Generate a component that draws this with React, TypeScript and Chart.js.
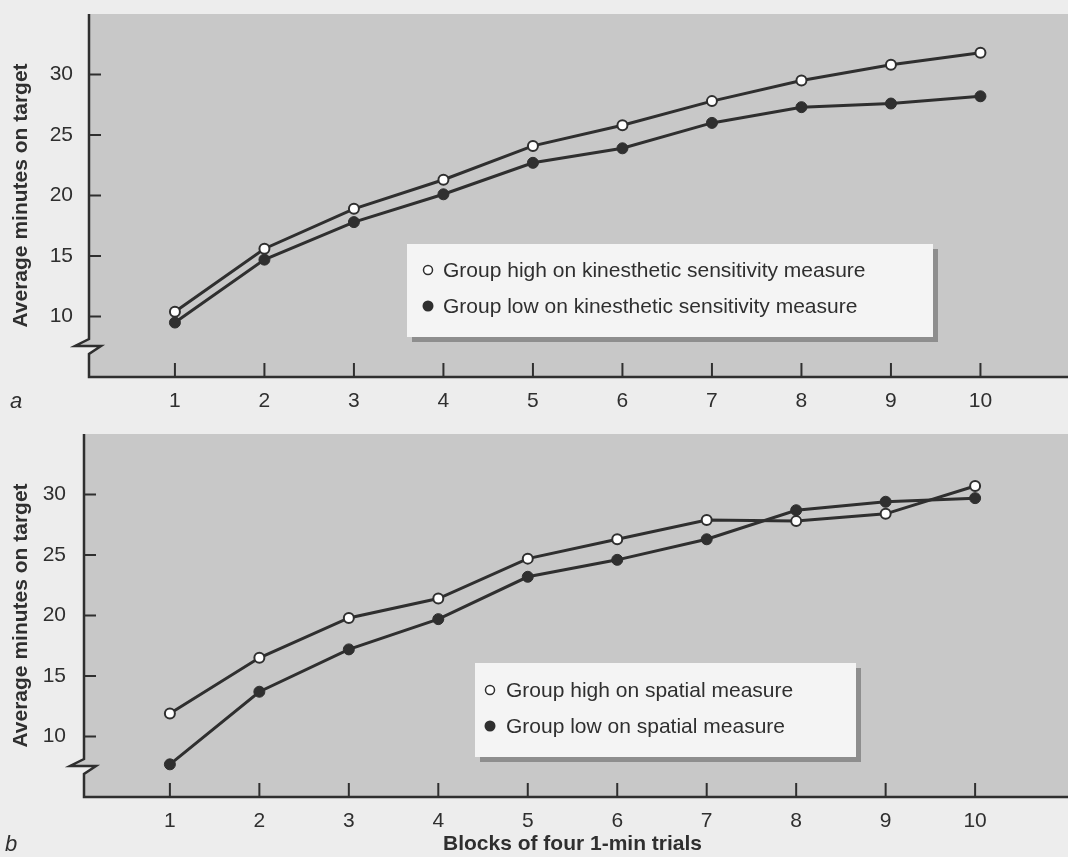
import React, { useEffect, useRef } from "react";
import { Chart, registerables } from "chart.js";

Chart.register(...registerables);

// ---------- data ----------
const BLOCKS = [1, 2, 3, 4, 5, 6, 7, 8, 9, 10];
const X_TICKS = [1, 2, 3, 4, 5, 6, 7, 8, 9, 10];
const Y_TICKS = [10, 15, 20, 25, 30];

const A_HIGH = [10.4, 15.6, 18.9, 21.3, 24.1, 25.8, 27.8, 29.5, 30.8, 31.8];
const A_LOW = [9.5, 14.7, 17.8, 20.1, 22.7, 23.9, 26.0, 27.3, 27.6, 28.2];
const B_HIGH = [11.9, 16.5, 19.8, 21.4, 24.7, 26.3, 27.9, 27.8, 28.4, 30.7];
const B_LOW = [7.7, 13.7, 17.2, 19.7, 23.2, 24.6, 26.3, 28.7, 29.4, 29.7];

const A_LABELS = [
  "Group high on kinesthetic sensitivity measure",
  "Group low on kinesthetic sensitivity measure",
];
const B_LABELS = ["Group high on spatial measure", "Group low on spatial measure"];

const Y_TITLE = "Average minutes on target";
const X_TITLE = "Blocks of four 1-min trials";

// ---------- layout / style ----------
const W = 1068;
const FONT = "'Liberation Sans', Arial, Helvetica, sans-serif";
const INK = "#2f2f2f";
const PAGE_BG = "#ededed";
const PLOT_BG = "#c8c8c8";
const BOX_BG = "#f4f4f4";
const SHADOW = "#8e8e8e";
const PLOT_TOP = 14;
const PLOT_H = 363;

type Panel = {
  top: number;
  height: number;
  axisLeft: number;
  labelPad: number;
  xMin: number;
  xMax: number;
  high: number[];
  low: number[];
  labels: string[];
  legend: { x: number; y: number; w: number; h: number; markerX: number; textX: number; rows: number[] };
  xTitle: boolean;
  letter: string;
  letterX: number;
  letterY: number;
};

const PANELS: Panel[] = [
  {
    top: 0,
    height: 420,
    axisLeft: 89,
    labelPad: 16,
    xMin: 0.04,
    xMax: 10.9,
    high: A_HIGH,
    low: A_LOW,
    labels: A_LABELS,
    legend: { x: 407, y: 244, w: 526, h: 93, markerX: 428, textX: 443, rows: [270, 306] },
    xTitle: false,
    letter: "a",
    letterX: 10,
    letterY: 408,
  },
  {
    top: 420,
    height: 437,
    axisLeft: 84,
    labelPad: 18,
    xMin: 0.04,
    xMax: 10.96,
    high: B_HIGH,
    low: B_LOW,
    labels: B_LABELS,
    legend: { x: 475, y: 243, w: 381, h: 94, markerX: 490, textX: 506, rows: [270, 306] },
    xTitle: true,
    letter: "b",
    letterX: 5,
    letterY: 431,
  },
];

function makePlugin(p: Panel) {
  return {
    id: "decor",
    beforeDraw(chart: any) {
      const { ctx, chartArea: a } = chart;
      ctx.save();
      ctx.fillStyle = PAGE_BG;
      ctx.fillRect(0, 0, chart.width, chart.height);
      ctx.fillStyle = PLOT_BG;
      ctx.fillRect(a.left, a.top, chart.width - a.left, a.bottom - a.top);
      ctx.restore();
    },
    beforeDatasetsDraw(chart: any) {
      const { ctx, chartArea: a, scales } = chart;
      const L = a.left;
      const y1 = a.bottom - 38;
      ctx.save();
      // break triangles
      ctx.fillStyle = PLOT_BG;
      ctx.beginPath();
      ctx.moveTo(L, y1);
      ctx.lineTo(L - 14, y1 + 7);
      ctx.lineTo(L, y1 + 7);
      ctx.closePath();
      ctx.fill();
      ctx.fillStyle = PAGE_BG;
      ctx.beginPath();
      ctx.moveTo(L, y1 + 7);
      ctx.lineTo(L + 12, y1 + 7);
      ctx.lineTo(L, y1 + 15);
      ctx.closePath();
      ctx.fill();
      // axes
      ctx.strokeStyle = INK;
      ctx.lineWidth = 2.5;
      ctx.lineJoin = "miter";
      ctx.beginPath();
      ctx.moveTo(L, a.top);
      ctx.lineTo(L, y1);
      ctx.lineTo(L - 14, y1 + 7);
      ctx.lineTo(L + 12, y1 + 7);
      ctx.lineTo(L, y1 + 15);
      ctx.lineTo(L, a.bottom);
      ctx.lineTo(chart.width, a.bottom);
      ctx.stroke();
      // inward tick marks
      ctx.lineWidth = 2;
      const ys = scales.y;
      const xs = scales.x;
      ys.ticks.forEach((t: any) => {
        const y = ys.getPixelForValue(t.value);
        ctx.beginPath();
        ctx.moveTo(L, y);
        ctx.lineTo(L + 12, y);
        ctx.stroke();
      });
      xs.ticks.forEach((t: any) => {
        const x = xs.getPixelForValue(t.value);
        ctx.beginPath();
        ctx.moveTo(x, a.bottom);
        ctx.lineTo(x, a.bottom - 14);
        ctx.stroke();
      });
      ctx.restore();
    },
    afterDatasetsDraw(chart: any) {
      const { ctx } = chart;
      const lg = p.legend;
      ctx.save();
      ctx.fillStyle = SHADOW;
      ctx.fillRect(lg.x + 5, lg.y + 5, lg.w, lg.h);
      ctx.fillStyle = BOX_BG;
      ctx.fillRect(lg.x, lg.y, lg.w, lg.h);
      chart.data.datasets.forEach((ds: any, i: number) => {
        const y = lg.rows[i];
        ctx.beginPath();
        if (i === 0) {
          ctx.arc(lg.markerX, y, 4.5, 0, Math.PI * 2);
          ctx.fillStyle = "#ffffff";
          ctx.fill();
          ctx.lineWidth = 1.5;
          ctx.strokeStyle = INK;
          ctx.stroke();
        } else {
          ctx.arc(lg.markerX, y, 5.5, 0, Math.PI * 2);
          ctx.fillStyle = INK;
          ctx.fill();
        }
        ctx.fillStyle = INK;
        ctx.font = `21px ${FONT}`;
        ctx.textAlign = "left";
        ctx.textBaseline = "middle";
        ctx.fillText(ds.label, lg.textX, y + 1);
      });
      // panel letter
      ctx.fillStyle = INK;
      ctx.font = `italic 22px ${FONT}`;
      ctx.textAlign = "left";
      ctx.textBaseline = "alphabetic";
      ctx.fillText(p.letter, p.letterX, p.letterY);
      ctx.restore();
    },
  };
}

function PanelChart({ p }: { p: Panel }) {
  const ref = useRef<HTMLCanvasElement | null>(null);
  useEffect(() => {
    if (!ref.current) return;
    const tickFont = { family: FONT, size: 21 };
    const titleFont = { family: FONT, size: 21, weight: "bold" as const };
    const chart = new Chart(ref.current, {
      type: "line",
      data: {
        labels: BLOCKS,
        datasets: [
          {
            label: p.labels[0],
            data: BLOCKS.map((b, i) => ({ x: b, y: p.high[i] })),
            borderColor: INK,
            borderWidth: 3,
            pointRadius: 5,
            pointBorderWidth: 2,
            pointBackgroundColor: "#ffffff",
            pointBorderColor: INK,
            tension: 0,
          },
          {
            label: p.labels[1],
            data: BLOCKS.map((b, i) => ({ x: b, y: p.low[i] })),
            borderColor: INK,
            borderWidth: 3,
            pointRadius: 5.5,
            pointBorderWidth: 1,
            pointBackgroundColor: INK,
            pointBorderColor: INK,
            tension: 0,
          },
        ],
      },
      options: {
        animation: false,
        responsive: false,
        events: [],
        layout: { padding: { top: PLOT_TOP, left: 0, right: 0, bottom: 0 } },
        plugins: { legend: { display: false }, tooltip: { enabled: false } },
        scales: {
          x: {
            type: "linear",
            min: p.xMin,
            max: p.xMax,
            afterBuildTicks: (s: any) => {
              s.ticks = X_TICKS.map((v) => ({ value: v }));
            },
            afterFit: (s: any) => {
              s.height = p.height - PLOT_TOP - PLOT_H;
              s.paddingLeft = 0;
              s.paddingRight = 0;
              s.paddingTop = 0;
              s.paddingBottom = 0;
            },
            grid: { display: false, drawTicks: false },
            border: { display: false },
            ticks: {
              padding: 12,
              font: tickFont,
              color: INK,
              autoSkip: false,
              maxRotation: 0,
              callback: (v: any) => String(v),
            },
            title: {
              display: p.xTitle,
              text: X_TITLE,
              font: titleFont,
              color: INK,
              padding: { top: 0, bottom: 0 },
            },
          },
          y: {
            type: "linear",
            min: 5,
            max: 35,
            afterBuildTicks: (s: any) => {
              s.ticks = Y_TICKS.map((v) => ({ value: v }));
            },
            afterFit: (s: any) => {
              s.width = p.axisLeft;
              s.paddingLeft = 0;
              s.paddingRight = 0;
              s.paddingTop = 0;
              s.paddingBottom = 0;
            },
            grid: { display: false, drawTicks: false },
            border: { display: false },
            ticks: {
              padding: p.labelPad,
              font: tickFont,
              color: INK,
              callback: (v: any) => String(v),
            },
            title: {
              display: true,
              text: Y_TITLE,
              font: titleFont,
              color: INK,
              padding: { top: 9, bottom: 0 },
            },
          },
        },
      },
      plugins: [makePlugin(p)],
    });
    return () => chart.destroy();
  }, [p]);
  return (
    <canvas
      ref={ref}
      width={W}
      height={p.height}
      style={{ position: "absolute", left: 0, top: p.top, width: W, height: p.height, display: "block" }}
    />
  );
}

export default function App() {
  return (
    <div
      style={{
        position: "fixed",
        left: 0,
        top: 0,
        width: W,
        height: 857,
        overflow: "hidden",
        background: PAGE_BG,
      }}
    >
      {PANELS.map((p, i) => (
        <PanelChart key={i} p={p} />
      ))}
    </div>
  );
}
